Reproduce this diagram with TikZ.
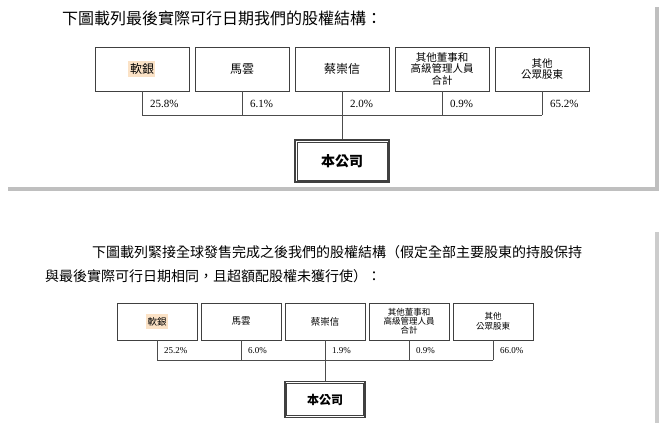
\documentclass[tikz,border=0pt]{standalone}
\usepackage{fontspec}
\setmainfont{Liberation Serif}
\newfontfamily\cjk{Noto Sans CJK TC}
\definecolor{hl}{HTML}{FBE2C6}
\begin{document}
\begin{tikzpicture}[x=1pt,y=-1pt,
  card/.style={fill=white,draw=none},
  obox/.style={draw=black!75,line width=0.6pt,fill=white},
  ln/.style={draw=black!70,line width=0.5pt},
  pct/.style={font=\fontsize{11}{12}\selectfont,anchor=west,inner sep=0},
  bl/.style={font=\cjk\fontsize{12}{13}\selectfont,align=center,inner sep=0},
  sl/.style={font=\cjk\fontsize{9.5}{10.5}\selectfont,align=center,inner sep=0}]
\useasboundingbox (0,0) rectangle (663,423);
\fill[white] (0,0) rectangle (663,423);
% shadows and cards
\fill[black!25] (8,7) rectangle (659,191);
\fill[card] (5,3) rectangle (655,187);
\fill[black!20] (8,232) rectangle (659,423);
\fill[card] (5,228) rectangle (655,423);
% top panel
\node[font=\cjk\fontsize{16}{18}\selectfont,anchor=west,inner sep=0] (t1) at (62,18) {下圖載列最後實際可行日期我們的股權結構：};
\foreach \i/\n in {0/a1,1/a2,2/a3,3/a4,4/a5}{
  \node[obox,minimum width=94pt,minimum height=44pt] (\n) at (142+100*\i,69) {};
  \coordinate (\n j) at (142+100*\i,115);
}
\fill[hl] (128,61) rectangle (155,77);
\node[bl] at (a1) {軟銀};
\node[bl] at (a2) {馬雲};
\node[bl] at (a3) {蔡崇信};
\node[bl,font=\cjk\fontsize{10.5}{11.5}\selectfont] at (a4) {其他董事和\\高級管理人員\\合計};
\node[bl,font=\cjk\fontsize{10.5}{11.5}\selectfont] at (a5) {其他\\公眾股東};
\foreach \n in {a1,a2,a3,a4,a5} \draw[ln] (\n.south) -- (\n j);
\draw[ln] (a1j) -- (a5j);
\node[obox,line width=1.2pt,minimum width=94pt,minimum height=42pt] (c1) at (342,161) {};
\draw[black!75,line width=0.6pt] ([shift={(2.5pt,2.5pt)}]c1.south west) rectangle ([shift={(-2.5pt,-2.5pt)}]c1.north east);
\node[bl,font=\cjk\bfseries\fontsize{14}{15}\selectfont] at (c1) {本公司};
\draw[ln] (a3j) -- (c1.north);
\foreach \n/\p in {a1/25.8\%,a2/6.1\%,a3/2.0\%,a4/0.9\%,a5/65.2\%}
  \node[pct] at ([xshift=8pt,yshift=11pt]\n j) {\p};
% bottom panel
\node[font=\cjk\fontsize{14}{16}\selectfont,anchor=west,inner sep=0] (t2) at (92,252) {下圖載列緊接全球發售完成之後我們的股權結構（假定全部主要股東的持股保持};
\node[font=\cjk\fontsize{14}{16}\selectfont,anchor=west,inner sep=0] (t3) at (45,276) {與最後實際可行日期相同，且超額配股權未獲行使）：};
\foreach \i/\n in {0/b1,1/b2,2/b3,3/b4,4/b5}{
  \node[obox,minimum width=80pt,minimum height=37pt] (\n) at (157+84*\i,321.5) {};
  \coordinate (\n j) at (157+84*\i,360);
}
\fill[hl] (146,314) rectangle (168,329);
\node[sl] at (b1) {軟銀};
\node[sl] at (b2) {馬雲};
\node[sl] at (b3) {蔡崇信};
\node[sl,font=\cjk\fontsize{8.5}{9}\selectfont] at (b4) {其他董事和\\高級管理人員\\合計};
\node[sl,font=\cjk\fontsize{8.5}{9.5}\selectfont] at (b5) {其他\\公眾股東};
\foreach \n in {b1,b2,b3,b4,b5} \draw[ln] (\n.south) -- (\n j);
\draw[ln] (b1j) -- (b5j);
\node[obox,line width=1.1pt,minimum width=80pt,minimum height=36pt] (c2) at (325,399.5) {};
\draw[black!75,line width=0.6pt] ([shift={(2.3pt,2.3pt)}]c2.south west) rectangle ([shift={(-2.3pt,-2.3pt)}]c2.north east);
\node[bl,font=\cjk\bfseries\fontsize{12}{13}\selectfont] at (c2) {本公司};
\draw[ln] (b3j) -- (c2.north);
\foreach \n/\p in {b1/25.2\%,b2/6.0\%,b3/1.9\%,b4/0.9\%,b5/66.0\%}
  \node[pct,font=\fontsize{9}{10}\selectfont] at ([xshift=7pt,yshift=9pt]\n j) {\p};
\end{tikzpicture}
\end{document}
